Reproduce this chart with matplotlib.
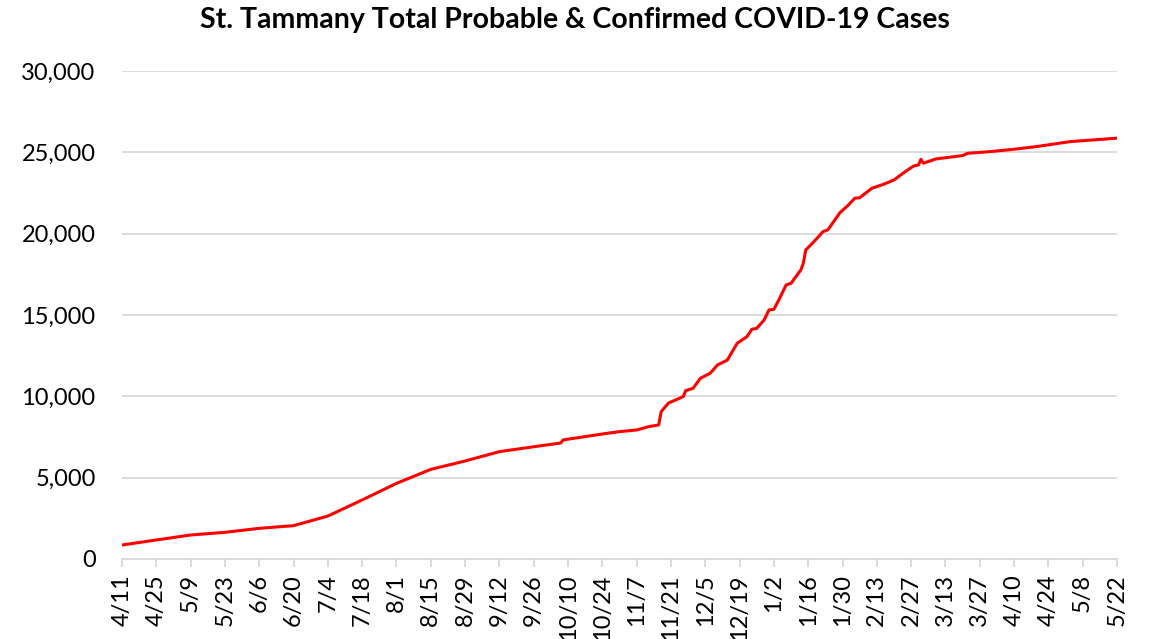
import matplotlib
matplotlib.use("Agg")
import matplotlib.pyplot as plt
from matplotlib.ticker import FuncFormatter
import pandas as pd

# values (cumulative cases)
dates = ["2020-04-11", "2020-04-25", "2020-05-09", "2020-05-23", "2020-06-06",
         "2020-06-20", "2020-07-04", "2020-07-18", "2020-08-01", "2020-08-15",
         "2020-08-29", "2020-09-12", "2020-09-26", "2020-10-07", "2020-10-08",
         "2020-10-24", "2020-10-31", "2020-11-07", "2020-11-12", "2020-11-16",
         "2020-11-17", "2020-11-20", "2020-11-26", "2020-11-27", "2020-11-30",
         "2020-12-03", "2020-12-07", "2020-12-10", "2020-12-14", "2020-12-18",
         "2020-12-22", "2020-12-24", "2020-12-26", "2020-12-29", "2020-12-31",
         "2021-01-02", "2021-01-04", "2021-01-07", "2021-01-09", "2021-01-13",
         "2021-01-14", "2021-01-15", "2021-01-17", "2021-01-20", "2021-01-22",
         "2021-01-24", "2021-01-29", "2021-02-01", "2021-02-04", "2021-02-06",
         "2021-02-11", "2021-02-16", "2021-02-20", "2021-02-24", "2021-02-28",
         "2021-03-02", "2021-03-03", "2021-03-04", "2021-03-09", "2021-03-20",
         "2021-03-22", "2021-03-31", "2021-04-10", "2021-04-19", "2021-05-03",
         "2021-05-22"]
cases = [860, 1170, 1475, 1640, 1885,
         2050, 2640, 3630, 4650, 5510,
         6025, 6600, 6900, 7130, 7320,
         7685, 7830, 7930, 8140, 8240,
         9060, 9590, 9980, 10350, 10490,
         11110, 11420, 11930, 12230, 13260,
         13670, 14120, 14180, 14690, 15310,
         15350, 15920, 16850, 16950, 17770,
         18180, 19000, 19300, 19780, 20120,
         20230, 21300, 21700, 22180, 22210,
         22790, 23050, 23300, 23750, 24160,
         24220, 24570, 24330, 24590, 24800,
         24940, 25040, 25190, 25350, 25660,
         25870]

x = pd.to_datetime(dates)
start, end = pd.Timestamp("2020-04-11"), pd.Timestamp("2021-05-22")

plt.rcParams['font.family'] = ['Lato', 'DejaVu Sans']

fig = plt.figure(figsize=(11.5, 6.39), dpi=100)
ax = fig.add_axes([0.1061, 0.1252, 0.8652, 0.7637])

ax.plot(x, cases, color='#ff0000', lw=2.2, solid_joinstyle='round')

ax.set_xlim(start, end)
ax.set_ylim(0, 30000)
ax.set_yticks(range(0, 30001, 5000))
ax.yaxis.set_major_formatter(FuncFormatter(lambda v, p: f"{int(v):,}"))

ticks = pd.date_range(start, end, freq='14D')
ax.set_xticks(ticks)
ax.set_xticklabels([f"{d.month}/{d.day}" for d in ticks], rotation=90)

ax.grid(axis='y', color='#d9d9d9', lw=1.3)
ax.set_axisbelow(True)
for s in ['top', 'right', 'left']:
    ax.spines[s].set_visible(False)
ax.spines['bottom'].set_color('#d9d9d9')
ax.spines['bottom'].set_linewidth(1.3)
ax.tick_params(axis='y', length=0, pad=19, labelsize=17)
ax.tick_params(axis='x', length=6, width=1.3, color='#d9d9d9', labelsize=17, pad=5)

fig.suptitle("St. Tammany Total Probable & Confirmed COVID-19 Cases",
             x=0.5, y=0.968, va='center', fontsize=20.5, fontweight='bold')

fig.savefig("out.png", dpi=100)
